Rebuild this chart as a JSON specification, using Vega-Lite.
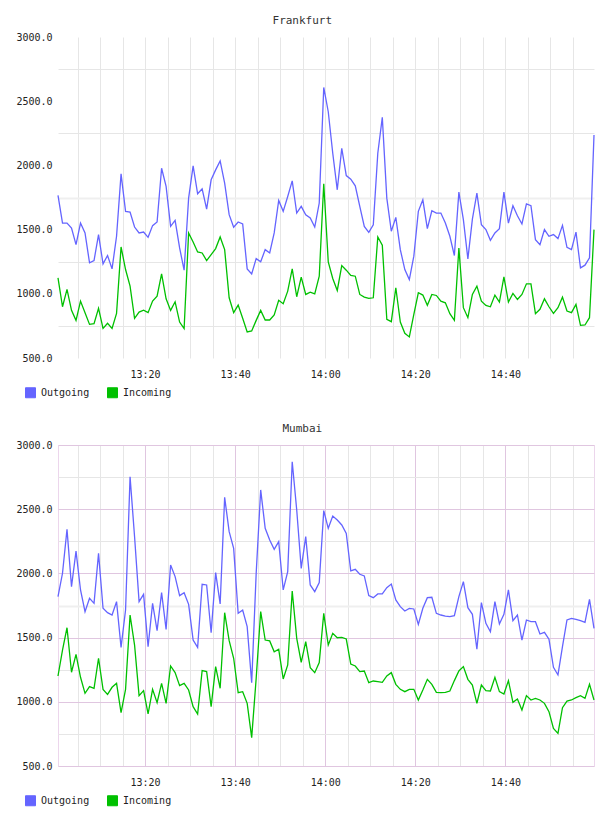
{
  "$schema": "https://vega.github.io/schema/vega-lite/v6.json",
  "background": "white",
  "padding": {"left": 7, "top": 15, "right": 10, "bottom": 5},
  "config": {
    "font": "DejaVu Sans Mono",
    "view": {"stroke": null},
    "concat": {"spacing": 22},
    "title": {"font": "DejaVu Sans Mono", "fontSize": 11, "fontWeight": "normal", "color": "#333333", "anchor": "middle", "frame": "bounds", "offset": 6},
    "axis": {"labelFont": "DejaVu Sans Mono", "labelFontSize": 10, "labelColor": "#222222", "ticks": false, "domain": false, "labelOverlap": false},
    "legend": {"labelFont": "DejaVu Sans Mono", "labelFontSize": 10, "labelColor": "#222222"}
  },
  "resolve": {"legend": {"color": "independent"}},
  "vconcat": [
    {
      "title": "Frankfurt",
      "width": 536,
      "height": 321,
      "data": {"values": [
      {"t":"2024-01-01T13:00:40","Outgoing":1766,"Incoming":1124},{"t":"2024-01-01T13:01:40","Outgoing":1551,"Incoming":899},{"t":"2024-01-01T13:02:40","Outgoing":1551,"Incoming":1034},{"t":"2024-01-01T13:03:40","Outgoing":1512,"Incoming":871},{"t":"2024-01-01T13:04:40","Outgoing":1383,"Incoming":793},
      {"t":"2024-01-01T13:05:40","Outgoing":1551,"Incoming":943},{"t":"2024-01-01T13:06:40","Outgoing":1474,"Incoming":853},{"t":"2024-01-01T13:07:40","Outgoing":1241,"Incoming":762},{"t":"2024-01-01T13:08:40","Outgoing":1259,"Incoming":767},{"t":"2024-01-01T13:09:40","Outgoing":1461,"Incoming":886},
      {"t":"2024-01-01T13:10:40","Outgoing":1233,"Incoming":731},{"t":"2024-01-01T13:11:40","Outgoing":1298,"Incoming":770},{"t":"2024-01-01T13:12:40","Outgoing":1194,"Incoming":731},{"t":"2024-01-01T13:13:40","Outgoing":1448,"Incoming":848},{"t":"2024-01-01T13:14:40","Outgoing":1934,"Incoming":1365},
      {"t":"2024-01-01T13:15:40","Outgoing":1642,"Incoming":1189},{"t":"2024-01-01T13:16:40","Outgoing":1637,"Incoming":1060},{"t":"2024-01-01T13:17:40","Outgoing":1520,"Incoming":809},{"t":"2024-01-01T13:18:40","Outgoing":1474,"Incoming":858},{"t":"2024-01-01T13:19:40","Outgoing":1481,"Incoming":873},
      {"t":"2024-01-01T13:20:40","Outgoing":1440,"Incoming":853},{"t":"2024-01-01T13:21:40","Outgoing":1531,"Incoming":943},{"t":"2024-01-01T13:22:40","Outgoing":1559,"Incoming":982},{"t":"2024-01-01T13:23:40","Outgoing":1978,"Incoming":1155},{"t":"2024-01-01T13:24:40","Outgoing":1836,"Incoming":961},
      {"t":"2024-01-01T13:25:40","Outgoing":1525,"Incoming":871},{"t":"2024-01-01T13:26:40","Outgoing":1572,"Incoming":938},{"t":"2024-01-01T13:27:40","Outgoing":1357,"Incoming":780},{"t":"2024-01-01T13:28:40","Outgoing":1184,"Incoming":729},{"t":"2024-01-01T13:29:40","Outgoing":1745,"Incoming":1474},
      {"t":"2024-01-01T13:30:40","Outgoing":1996,"Incoming":1404},{"t":"2024-01-01T13:31:40","Outgoing":1779,"Incoming":1326},{"t":"2024-01-01T13:32:40","Outgoing":1818,"Incoming":1318},{"t":"2024-01-01T13:33:40","Outgoing":1660,"Incoming":1259},{"t":"2024-01-01T13:34:40","Outgoing":1888,"Incoming":1305},
      {"t":"2024-01-01T13:35:40","Outgoing":1965,"Incoming":1352},{"t":"2024-01-01T13:36:40","Outgoing":2035,"Incoming":1443},{"t":"2024-01-01T13:37:40","Outgoing":1862,"Incoming":1344},{"t":"2024-01-01T13:38:40","Outgoing":1616,"Incoming":969},{"t":"2024-01-01T13:39:40","Outgoing":1518,"Incoming":853},
      {"t":"2024-01-01T13:40:40","Outgoing":1559,"Incoming":912},{"t":"2024-01-01T13:41:40","Outgoing":1544,"Incoming":809},{"t":"2024-01-01T13:42:40","Outgoing":1194,"Incoming":703},{"t":"2024-01-01T13:43:40","Outgoing":1155,"Incoming":711},{"t":"2024-01-01T13:44:40","Outgoing":1274,"Incoming":793},
      {"t":"2024-01-01T13:45:40","Outgoing":1249,"Incoming":871},{"t":"2024-01-01T13:46:40","Outgoing":1344,"Incoming":796},{"t":"2024-01-01T13:47:40","Outgoing":1318,"Incoming":796},{"t":"2024-01-01T13:48:40","Outgoing":1474,"Incoming":835},{"t":"2024-01-01T13:49:40","Outgoing":1727,"Incoming":949},
      {"t":"2024-01-01T13:50:40","Outgoing":1642,"Incoming":923},{"t":"2024-01-01T13:51:40","Outgoing":1758,"Incoming":1021},{"t":"2024-01-01T13:52:40","Outgoing":1880,"Incoming":1194},{"t":"2024-01-01T13:53:40","Outgoing":1629,"Incoming":977},{"t":"2024-01-01T13:54:40","Outgoing":1681,"Incoming":1130},
      {"t":"2024-01-01T13:55:40","Outgoing":1616,"Incoming":995},{"t":"2024-01-01T13:56:40","Outgoing":1590,"Incoming":1013},{"t":"2024-01-01T13:57:40","Outgoing":1520,"Incoming":1000},{"t":"2024-01-01T13:58:40","Outgoing":1707,"Incoming":1137},{"t":"2024-01-01T13:59:40","Outgoing":2607,"Incoming":1857},
      {"t":"2024-01-01T14:00:40","Outgoing":2418,"Incoming":1249},{"t":"2024-01-01T14:01:40","Outgoing":2095,"Incoming":1119},{"t":"2024-01-01T14:02:40","Outgoing":1810,"Incoming":1026},{"t":"2024-01-01T14:03:40","Outgoing":2133,"Incoming":1220},{"t":"2024-01-01T14:04:40","Outgoing":1921,"Incoming":1184},
      {"t":"2024-01-01T14:05:40","Outgoing":1893,"Incoming":1143},{"t":"2024-01-01T14:06:40","Outgoing":1841,"Incoming":1137},{"t":"2024-01-01T14:07:40","Outgoing":1681,"Incoming":995},{"t":"2024-01-01T14:08:40","Outgoing":1525,"Incoming":974},{"t":"2024-01-01T14:09:40","Outgoing":1479,"Incoming":964},
      {"t":"2024-01-01T14:10:40","Outgoing":1538,"Incoming":969},{"t":"2024-01-01T14:11:40","Outgoing":2095,"Incoming":1443},{"t":"2024-01-01T14:12:40","Outgoing":2374,"Incoming":1378},{"t":"2024-01-01T14:13:40","Outgoing":1745,"Incoming":801},{"t":"2024-01-01T14:14:40","Outgoing":1487,"Incoming":783},
      {"t":"2024-01-01T14:15:40","Outgoing":1595,"Incoming":1047},{"t":"2024-01-01T14:16:40","Outgoing":1344,"Incoming":780},{"t":"2024-01-01T14:17:40","Outgoing":1189,"Incoming":692},{"t":"2024-01-01T14:18:40","Outgoing":1111,"Incoming":664},{"t":"2024-01-01T14:19:40","Outgoing":1293,"Incoming":840},
      {"t":"2024-01-01T14:20:40","Outgoing":1642,"Incoming":1008},{"t":"2024-01-01T14:21:40","Outgoing":1732,"Incoming":990},{"t":"2024-01-01T14:22:40","Outgoing":1507,"Incoming":910},{"t":"2024-01-01T14:23:40","Outgoing":1647,"Incoming":995},{"t":"2024-01-01T14:24:40","Outgoing":1629,"Incoming":987},
      {"t":"2024-01-01T14:25:40","Outgoing":1629,"Incoming":943},{"t":"2024-01-01T14:26:40","Outgoing":1551,"Incoming":930},{"t":"2024-01-01T14:27:40","Outgoing":1448,"Incoming":845},{"t":"2024-01-01T14:28:40","Outgoing":1298,"Incoming":793},{"t":"2024-01-01T14:29:40","Outgoing":1792,"Incoming":1357},
      {"t":"2024-01-01T14:30:40","Outgoing":1577,"Incoming":892},{"t":"2024-01-01T14:31:40","Outgoing":1272,"Incoming":814},{"t":"2024-01-01T14:32:40","Outgoing":1582,"Incoming":995},{"t":"2024-01-01T14:33:40","Outgoing":1784,"Incoming":1060},{"t":"2024-01-01T14:34:40","Outgoing":1538,"Incoming":943},
      {"t":"2024-01-01T14:35:40","Outgoing":1500,"Incoming":910},{"t":"2024-01-01T14:36:40","Outgoing":1417,"Incoming":899},{"t":"2024-01-01T14:37:40","Outgoing":1474,"Incoming":990},{"t":"2024-01-01T14:38:40","Outgoing":1507,"Incoming":936},{"t":"2024-01-01T14:39:40","Outgoing":1792,"Incoming":1132},
      {"t":"2024-01-01T14:40:40","Outgoing":1551,"Incoming":936},{"t":"2024-01-01T14:41:40","Outgoing":1686,"Incoming":1003},{"t":"2024-01-01T14:42:40","Outgoing":1608,"Incoming":956},{"t":"2024-01-01T14:43:40","Outgoing":1544,"Incoming":995},{"t":"2024-01-01T14:44:40","Outgoing":1701,"Incoming":1078},
      {"t":"2024-01-01T14:45:40","Outgoing":1686,"Incoming":1078},{"t":"2024-01-01T14:46:40","Outgoing":1422,"Incoming":845},{"t":"2024-01-01T14:47:40","Outgoing":1383,"Incoming":879},{"t":"2024-01-01T14:48:40","Outgoing":1500,"Incoming":961},{"t":"2024-01-01T14:49:40","Outgoing":1448,"Incoming":899},
      {"t":"2024-01-01T14:50:40","Outgoing":1461,"Incoming":848},{"t":"2024-01-01T14:51:40","Outgoing":1430,"Incoming":892},{"t":"2024-01-01T14:52:40","Outgoing":1533,"Incoming":974},{"t":"2024-01-01T14:53:40","Outgoing":1362,"Incoming":866},{"t":"2024-01-01T14:54:40","Outgoing":1344,"Incoming":853},
      {"t":"2024-01-01T14:55:40","Outgoing":1481,"Incoming":918},{"t":"2024-01-01T14:56:40","Outgoing":1202,"Incoming":754},{"t":"2024-01-01T14:57:40","Outgoing":1223,"Incoming":757},{"t":"2024-01-01T14:58:40","Outgoing":1280,"Incoming":814},{"t":"2024-01-01T14:59:40","Outgoing":2237,"Incoming":1500}
      ]},
      "transform": [{"fold": ["Outgoing", "Incoming"], "as": ["series", "value"]}],
      "mark": {"type": "line", "strokeWidth": 1.3},
      "encoding": {
        "x": {
          "field": "t", "type": "temporal",
          "scale": {"nice": false},
          "axis": {
            "title": null,
            "values": [
              {"year": 2024, "month": 1, "date": 1, "hours": 13, "minutes": 5}, {"year": 2024, "month": 1, "date": 1, "hours": 13, "minutes": 10},
              {"year": 2024, "month": 1, "date": 1, "hours": 13, "minutes": 15}, {"year": 2024, "month": 1, "date": 1, "hours": 13, "minutes": 20},
              {"year": 2024, "month": 1, "date": 1, "hours": 13, "minutes": 25}, {"year": 2024, "month": 1, "date": 1, "hours": 13, "minutes": 30},
              {"year": 2024, "month": 1, "date": 1, "hours": 13, "minutes": 35}, {"year": 2024, "month": 1, "date": 1, "hours": 13, "minutes": 40},
              {"year": 2024, "month": 1, "date": 1, "hours": 13, "minutes": 45}, {"year": 2024, "month": 1, "date": 1, "hours": 13, "minutes": 50},
              {"year": 2024, "month": 1, "date": 1, "hours": 13, "minutes": 55}, {"year": 2024, "month": 1, "date": 1, "hours": 14, "minutes": 0},
              {"year": 2024, "month": 1, "date": 1, "hours": 14, "minutes": 5}, {"year": 2024, "month": 1, "date": 1, "hours": 14, "minutes": 10},
              {"year": 2024, "month": 1, "date": 1, "hours": 14, "minutes": 15}, {"year": 2024, "month": 1, "date": 1, "hours": 14, "minutes": 20},
              {"year": 2024, "month": 1, "date": 1, "hours": 14, "minutes": 25}, {"year": 2024, "month": 1, "date": 1, "hours": 14, "minutes": 30},
              {"year": 2024, "month": 1, "date": 1, "hours": 14, "minutes": 35}, {"year": 2024, "month": 1, "date": 1, "hours": 14, "minutes": 40},
              {"year": 2024, "month": 1, "date": 1, "hours": 14, "minutes": 45}, {"year": 2024, "month": 1, "date": 1, "hours": 14, "minutes": 50},
              {"year": 2024, "month": 1, "date": 1, "hours": 14, "minutes": 55}
            ],
            "format": "%H:%M",
            "labelExpr": "indexof(['13:20','13:40','14:00','14:20','14:40'], datum.label) >= 0 ? datum.label : ''",
            "grid": true, "gridColor": "#e6e6e6", "labelPadding": 11
          }
        },
        "y": {
          "field": "value", "type": "quantitative",
          "scale": {"domain": [500, 3000], "nice": false, "zero": false},
          "axis": {
            "title": null,
            "values": [500, 750, 1000, 1250, 1500, 1750, 2000, 2250, 2500, 2750, 3000],
            "labelExpr": "datum.value % 500 === 0 ? format(datum.value, '.1f') : ''",
            "grid": true,
            "gridColor": {"condition": {"test": "datum.value === 1750", "value": "#efefef"}, "value": "#e6e6e6"},
            "gridOpacity": {"condition": {"test": "datum.value % 500 === 0", "value": 0}, "value": 1},
            "gridWidth": {"condition": {"test": "datum.value === 1750", "value": 2}, "value": 1},
            "labelPadding": 6, "minExtent": 50, "maxExtent": 50
          }
        },
        "color": {
          "field": "series", "type": "nominal",
          "scale": {"domain": ["Outgoing", "Incoming"], "range": ["#6464ff", "#00c000"]},
          "legend": {
            "title": null, "orient": "none", "legendX": -33, "legendY": 350, "direction": "horizontal",
            "symbolType": "square", "symbolSize": 100,
            "columnPadding": 15, "labelOffset": 5, "padding": 0,
            "encode": {"symbols": {"update": {"fill": {"scale": "color", "field": "value"}, "stroke": {"value": "#999999"}, "strokeWidth": {"value": 1}}}}
          }
        }
      }
    },
    {
      "title": "Mumbai",
      "width": 536,
      "height": 321,
      "view": {"stroke": "#ecd6ec"},
      "data": {"values": [
      {"t":"2024-01-01T13:00:40","Outgoing":1819,"Incoming":1201},{"t":"2024-01-01T13:01:40","Outgoing":2001,"Incoming":1403},{"t":"2024-01-01T13:02:40","Outgoing":2343,"Incoming":1577},{"t":"2024-01-01T13:03:40","Outgoing":1897,"Incoming":1230},{"t":"2024-01-01T13:04:40","Outgoing":2174,"Incoming":1370},
      {"t":"2024-01-01T13:05:40","Outgoing":1871,"Incoming":1191},{"t":"2024-01-01T13:06:40","Outgoing":1702,"Incoming":1066},{"t":"2024-01-01T13:07:40","Outgoing":1806,"Incoming":1118},{"t":"2024-01-01T13:08:40","Outgoing":1767,"Incoming":1105},{"t":"2024-01-01T13:09:40","Outgoing":2156,"Incoming":1339},
      {"t":"2024-01-01T13:10:40","Outgoing":1728,"Incoming":1097},{"t":"2024-01-01T13:11:40","Outgoing":1694,"Incoming":1058},{"t":"2024-01-01T13:12:40","Outgoing":1676,"Incoming":1113},{"t":"2024-01-01T13:13:40","Outgoing":1780,"Incoming":1144},{"t":"2024-01-01T13:14:40","Outgoing":1424,"Incoming":915},
      {"t":"2024-01-01T13:15:40","Outgoing":1715,"Incoming":1097},{"t":"2024-01-01T13:16:40","Outgoing":2753,"Incoming":1676},{"t":"2024-01-01T13:17:40","Outgoing":2286,"Incoming":1442},{"t":"2024-01-01T13:18:40","Outgoing":1780,"Incoming":1048},{"t":"2024-01-01T13:19:40","Outgoing":1837,"Incoming":1087},
      {"t":"2024-01-01T13:20:40","Outgoing":1429,"Incoming":905},{"t":"2024-01-01T13:21:40","Outgoing":1767,"Incoming":1097},{"t":"2024-01-01T13:22:40","Outgoing":1554,"Incoming":993},{"t":"2024-01-01T13:23:40","Outgoing":1850,"Incoming":1144},{"t":"2024-01-01T13:24:40","Outgoing":1564,"Incoming":988},
      {"t":"2024-01-01T13:25:40","Outgoing":2065,"Incoming":1279},{"t":"2024-01-01T13:26:40","Outgoing":1975,"Incoming":1227},{"t":"2024-01-01T13:27:40","Outgoing":1827,"Incoming":1126},{"t":"2024-01-01T13:28:40","Outgoing":1850,"Incoming":1144},{"t":"2024-01-01T13:29:40","Outgoing":1759,"Incoming":1092},
      {"t":"2024-01-01T13:30:40","Outgoing":1481,"Incoming":962},{"t":"2024-01-01T13:31:40","Outgoing":1424,"Incoming":905},{"t":"2024-01-01T13:32:40","Outgoing":1915,"Incoming":1243},{"t":"2024-01-01T13:33:40","Outgoing":1910,"Incoming":1235},{"t":"2024-01-01T13:34:40","Outgoing":1538,"Incoming":962},
      {"t":"2024-01-01T13:35:40","Outgoing":2006,"Incoming":1274},{"t":"2024-01-01T13:36:40","Outgoing":1762,"Incoming":1105},{"t":"2024-01-01T13:37:40","Outgoing":2592,"Incoming":1694},{"t":"2024-01-01T13:38:40","Outgoing":2325,"Incoming":1476},{"t":"2024-01-01T13:39:40","Outgoing":2195,"Incoming":1339},
      {"t":"2024-01-01T13:40:40","Outgoing":1689,"Incoming":1071},{"t":"2024-01-01T13:41:40","Outgoing":1715,"Incoming":1079},{"t":"2024-01-01T13:42:40","Outgoing":1585,"Incoming":988},{"t":"2024-01-01T13:43:40","Outgoing":1149,"Incoming":721},{"t":"2024-01-01T13:44:40","Outgoing":2001,"Incoming":1183},
      {"t":"2024-01-01T13:45:40","Outgoing":2650,"Incoming":1702},{"t":"2024-01-01T13:46:40","Outgoing":2351,"Incoming":1481},{"t":"2024-01-01T13:47:40","Outgoing":2260,"Incoming":1474},{"t":"2024-01-01T13:48:40","Outgoing":2187,"Incoming":1390},{"t":"2024-01-01T13:49:40","Outgoing":2247,"Incoming":1409},
      {"t":"2024-01-01T13:50:40","Outgoing":1871,"Incoming":1178},{"t":"2024-01-01T13:51:40","Outgoing":2014,"Incoming":1287},{"t":"2024-01-01T13:52:40","Outgoing":2870,"Incoming":1863},{"t":"2024-01-01T13:53:40","Outgoing":2494,"Incoming":1494},{"t":"2024-01-01T13:54:40","Outgoing":2039,"Incoming":1307},
      {"t":"2024-01-01T13:55:40","Outgoing":2286,"Incoming":1468},{"t":"2024-01-01T13:56:40","Outgoing":1910,"Incoming":1266},{"t":"2024-01-01T13:57:40","Outgoing":1858,"Incoming":1227},{"t":"2024-01-01T13:58:40","Outgoing":1928,"Incoming":1305},{"t":"2024-01-01T13:59:40","Outgoing":2489,"Incoming":1689},
      {"t":"2024-01-01T14:00:40","Outgoing":2351,"Incoming":1442},{"t":"2024-01-01T14:01:40","Outgoing":2447,"Incoming":1533},{"t":"2024-01-01T14:02:40","Outgoing":2416,"Incoming":1499},{"t":"2024-01-01T14:03:40","Outgoing":2377,"Incoming":1502},{"t":"2024-01-01T14:04:40","Outgoing":2312,"Incoming":1489},
      {"t":"2024-01-01T14:05:40","Outgoing":2019,"Incoming":1294},{"t":"2024-01-01T14:06:40","Outgoing":2032,"Incoming":1279},{"t":"2024-01-01T14:07:40","Outgoing":1993,"Incoming":1235},{"t":"2024-01-01T14:08:40","Outgoing":1980,"Incoming":1240},{"t":"2024-01-01T14:09:40","Outgoing":1827,"Incoming":1149},
      {"t":"2024-01-01T14:10:40","Outgoing":1811,"Incoming":1162},{"t":"2024-01-01T14:11:40","Outgoing":1840,"Incoming":1157},{"t":"2024-01-01T14:12:40","Outgoing":1840,"Incoming":1152},{"t":"2024-01-01T14:13:40","Outgoing":1889,"Incoming":1201},{"t":"2024-01-01T14:14:40","Outgoing":1917,"Incoming":1227},
      {"t":"2024-01-01T14:15:40","Outgoing":1793,"Incoming":1136},{"t":"2024-01-01T14:16:40","Outgoing":1741,"Incoming":1097},{"t":"2024-01-01T14:17:40","Outgoing":1707,"Incoming":1079},{"t":"2024-01-01T14:18:40","Outgoing":1728,"Incoming":1097},{"t":"2024-01-01T14:19:40","Outgoing":1723,"Incoming":1097},
      {"t":"2024-01-01T14:20:40","Outgoing":1603,"Incoming":1014},{"t":"2024-01-01T14:21:40","Outgoing":1728,"Incoming":1092},{"t":"2024-01-01T14:22:40","Outgoing":1811,"Incoming":1175},{"t":"2024-01-01T14:23:40","Outgoing":1814,"Incoming":1136},{"t":"2024-01-01T14:24:40","Outgoing":1689,"Incoming":1074},
      {"t":"2024-01-01T14:25:40","Outgoing":1676,"Incoming":1071},{"t":"2024-01-01T14:26:40","Outgoing":1668,"Incoming":1074},{"t":"2024-01-01T14:27:40","Outgoing":1663,"Incoming":1084},{"t":"2024-01-01T14:28:40","Outgoing":1671,"Incoming":1165},{"t":"2024-01-01T14:29:40","Outgoing":1819,"Incoming":1240},
      {"t":"2024-01-01T14:30:40","Outgoing":1936,"Incoming":1274},{"t":"2024-01-01T14:31:40","Outgoing":1733,"Incoming":1175},{"t":"2024-01-01T14:32:40","Outgoing":1681,"Incoming":1131},{"t":"2024-01-01T14:33:40","Outgoing":1409,"Incoming":988},{"t":"2024-01-01T14:34:40","Outgoing":1772,"Incoming":1131},
      {"t":"2024-01-01T14:35:40","Outgoing":1611,"Incoming":1087},{"t":"2024-01-01T14:36:40","Outgoing":1546,"Incoming":1084},{"t":"2024-01-01T14:37:40","Outgoing":1780,"Incoming":1191},{"t":"2024-01-01T14:38:40","Outgoing":1606,"Incoming":1079},{"t":"2024-01-01T14:39:40","Outgoing":1681,"Incoming":1061},
      {"t":"2024-01-01T14:40:40","Outgoing":1871,"Incoming":1165},{"t":"2024-01-01T14:41:40","Outgoing":1632,"Incoming":996},{"t":"2024-01-01T14:42:40","Outgoing":1676,"Incoming":1022},{"t":"2024-01-01T14:43:40","Outgoing":1481,"Incoming":936},{"t":"2024-01-01T14:44:40","Outgoing":1637,"Incoming":1048},
      {"t":"2024-01-01T14:45:40","Outgoing":1624,"Incoming":1014},{"t":"2024-01-01T14:46:40","Outgoing":1624,"Incoming":1027},{"t":"2024-01-01T14:47:40","Outgoing":1528,"Incoming":1014},{"t":"2024-01-01T14:48:40","Outgoing":1541,"Incoming":988},{"t":"2024-01-01T14:49:40","Outgoing":1487,"Incoming":923},
      {"t":"2024-01-01T14:50:40","Outgoing":1268,"Incoming":793},{"t":"2024-01-01T14:51:40","Outgoing":1209,"Incoming":754},{"t":"2024-01-01T14:52:40","Outgoing":1429,"Incoming":954},{"t":"2024-01-01T14:53:40","Outgoing":1637,"Incoming":1006},{"t":"2024-01-01T14:54:40","Outgoing":1650,"Incoming":1014},
      {"t":"2024-01-01T14:55:40","Outgoing":1642,"Incoming":1032},{"t":"2024-01-01T14:56:40","Outgoing":1632,"Incoming":1048},{"t":"2024-01-01T14:57:40","Outgoing":1619,"Incoming":1027},{"t":"2024-01-01T14:58:40","Outgoing":1798,"Incoming":1136},{"t":"2024-01-01T14:59:40","Outgoing":1572,"Incoming":1014}
      ]},
      "transform": [{"fold": ["Outgoing", "Incoming"], "as": ["series", "value"]}],
      "mark": {"type": "line", "strokeWidth": 1.3},
      "encoding": {
        "x": {
          "field": "t", "type": "temporal",
          "scale": {"nice": false},
          "axis": {
            "title": null,
            "values": [
              {"year": 2024, "month": 1, "date": 1, "hours": 13, "minutes": 5}, {"year": 2024, "month": 1, "date": 1, "hours": 13, "minutes": 10},
              {"year": 2024, "month": 1, "date": 1, "hours": 13, "minutes": 15}, {"year": 2024, "month": 1, "date": 1, "hours": 13, "minutes": 20},
              {"year": 2024, "month": 1, "date": 1, "hours": 13, "minutes": 25}, {"year": 2024, "month": 1, "date": 1, "hours": 13, "minutes": 30},
              {"year": 2024, "month": 1, "date": 1, "hours": 13, "minutes": 35}, {"year": 2024, "month": 1, "date": 1, "hours": 13, "minutes": 40},
              {"year": 2024, "month": 1, "date": 1, "hours": 13, "minutes": 45}, {"year": 2024, "month": 1, "date": 1, "hours": 13, "minutes": 50},
              {"year": 2024, "month": 1, "date": 1, "hours": 13, "minutes": 55}, {"year": 2024, "month": 1, "date": 1, "hours": 14, "minutes": 0},
              {"year": 2024, "month": 1, "date": 1, "hours": 14, "minutes": 5}, {"year": 2024, "month": 1, "date": 1, "hours": 14, "minutes": 10},
              {"year": 2024, "month": 1, "date": 1, "hours": 14, "minutes": 15}, {"year": 2024, "month": 1, "date": 1, "hours": 14, "minutes": 20},
              {"year": 2024, "month": 1, "date": 1, "hours": 14, "minutes": 25}, {"year": 2024, "month": 1, "date": 1, "hours": 14, "minutes": 30},
              {"year": 2024, "month": 1, "date": 1, "hours": 14, "minutes": 35}, {"year": 2024, "month": 1, "date": 1, "hours": 14, "minutes": 40},
              {"year": 2024, "month": 1, "date": 1, "hours": 14, "minutes": 45}, {"year": 2024, "month": 1, "date": 1, "hours": 14, "minutes": 50},
              {"year": 2024, "month": 1, "date": 1, "hours": 14, "minutes": 55}
            ],
            "format": "%H:%M",
            "labelExpr": "indexof(['13:20','13:40','14:00','14:20','14:40'], datum.label) >= 0 ? datum.label : ''",
            "grid": true,
            "gridColor": {"condition": {"test": "indexof(['13:20','13:40','14:00','14:20','14:40'], timeFormat(datum.value, '%H:%M')) >= 0", "value": "#e0c6e0"}, "value": "#e6e6e6"},
            "labelPadding": 11
          }
        },
        "y": {
          "field": "value", "type": "quantitative",
          "scale": {"domain": [500, 3000], "nice": false, "zero": false},
          "axis": {
            "title": null,
            "values": [500, 750, 1000, 1250, 1500, 1750, 2000, 2250, 2500, 2750, 3000],
            "labelExpr": "datum.value % 500 === 0 ? format(datum.value, '.1f') : ''",
            "grid": true,
            "gridColor": {"condition": [{"test": "datum.value % 500 === 0", "value": "#e0c6e0"}, {"test": "datum.value === 1750", "value": "#efefef"}], "value": "#e6e6e6"},
            "gridWidth": {"condition": {"test": "datum.value === 1750", "value": 2}, "value": 1},
            "labelPadding": 6, "minExtent": 50, "maxExtent": 50
          }
        },
        "color": {
          "field": "series", "type": "nominal",
          "scale": {"domain": ["Outgoing", "Incoming"], "range": ["#6464ff", "#00c000"]},
          "legend": {
            "title": null, "orient": "none", "legendX": -33, "legendY": 350, "direction": "horizontal",
            "symbolType": "square", "symbolSize": 100,
            "columnPadding": 15, "labelOffset": 5, "padding": 0,
            "encode": {"symbols": {"update": {"fill": {"scale": "color", "field": "value"}, "stroke": {"value": "#999999"}, "strokeWidth": {"value": 1}}}}
          }
        }
      }
    }
  ]
}
